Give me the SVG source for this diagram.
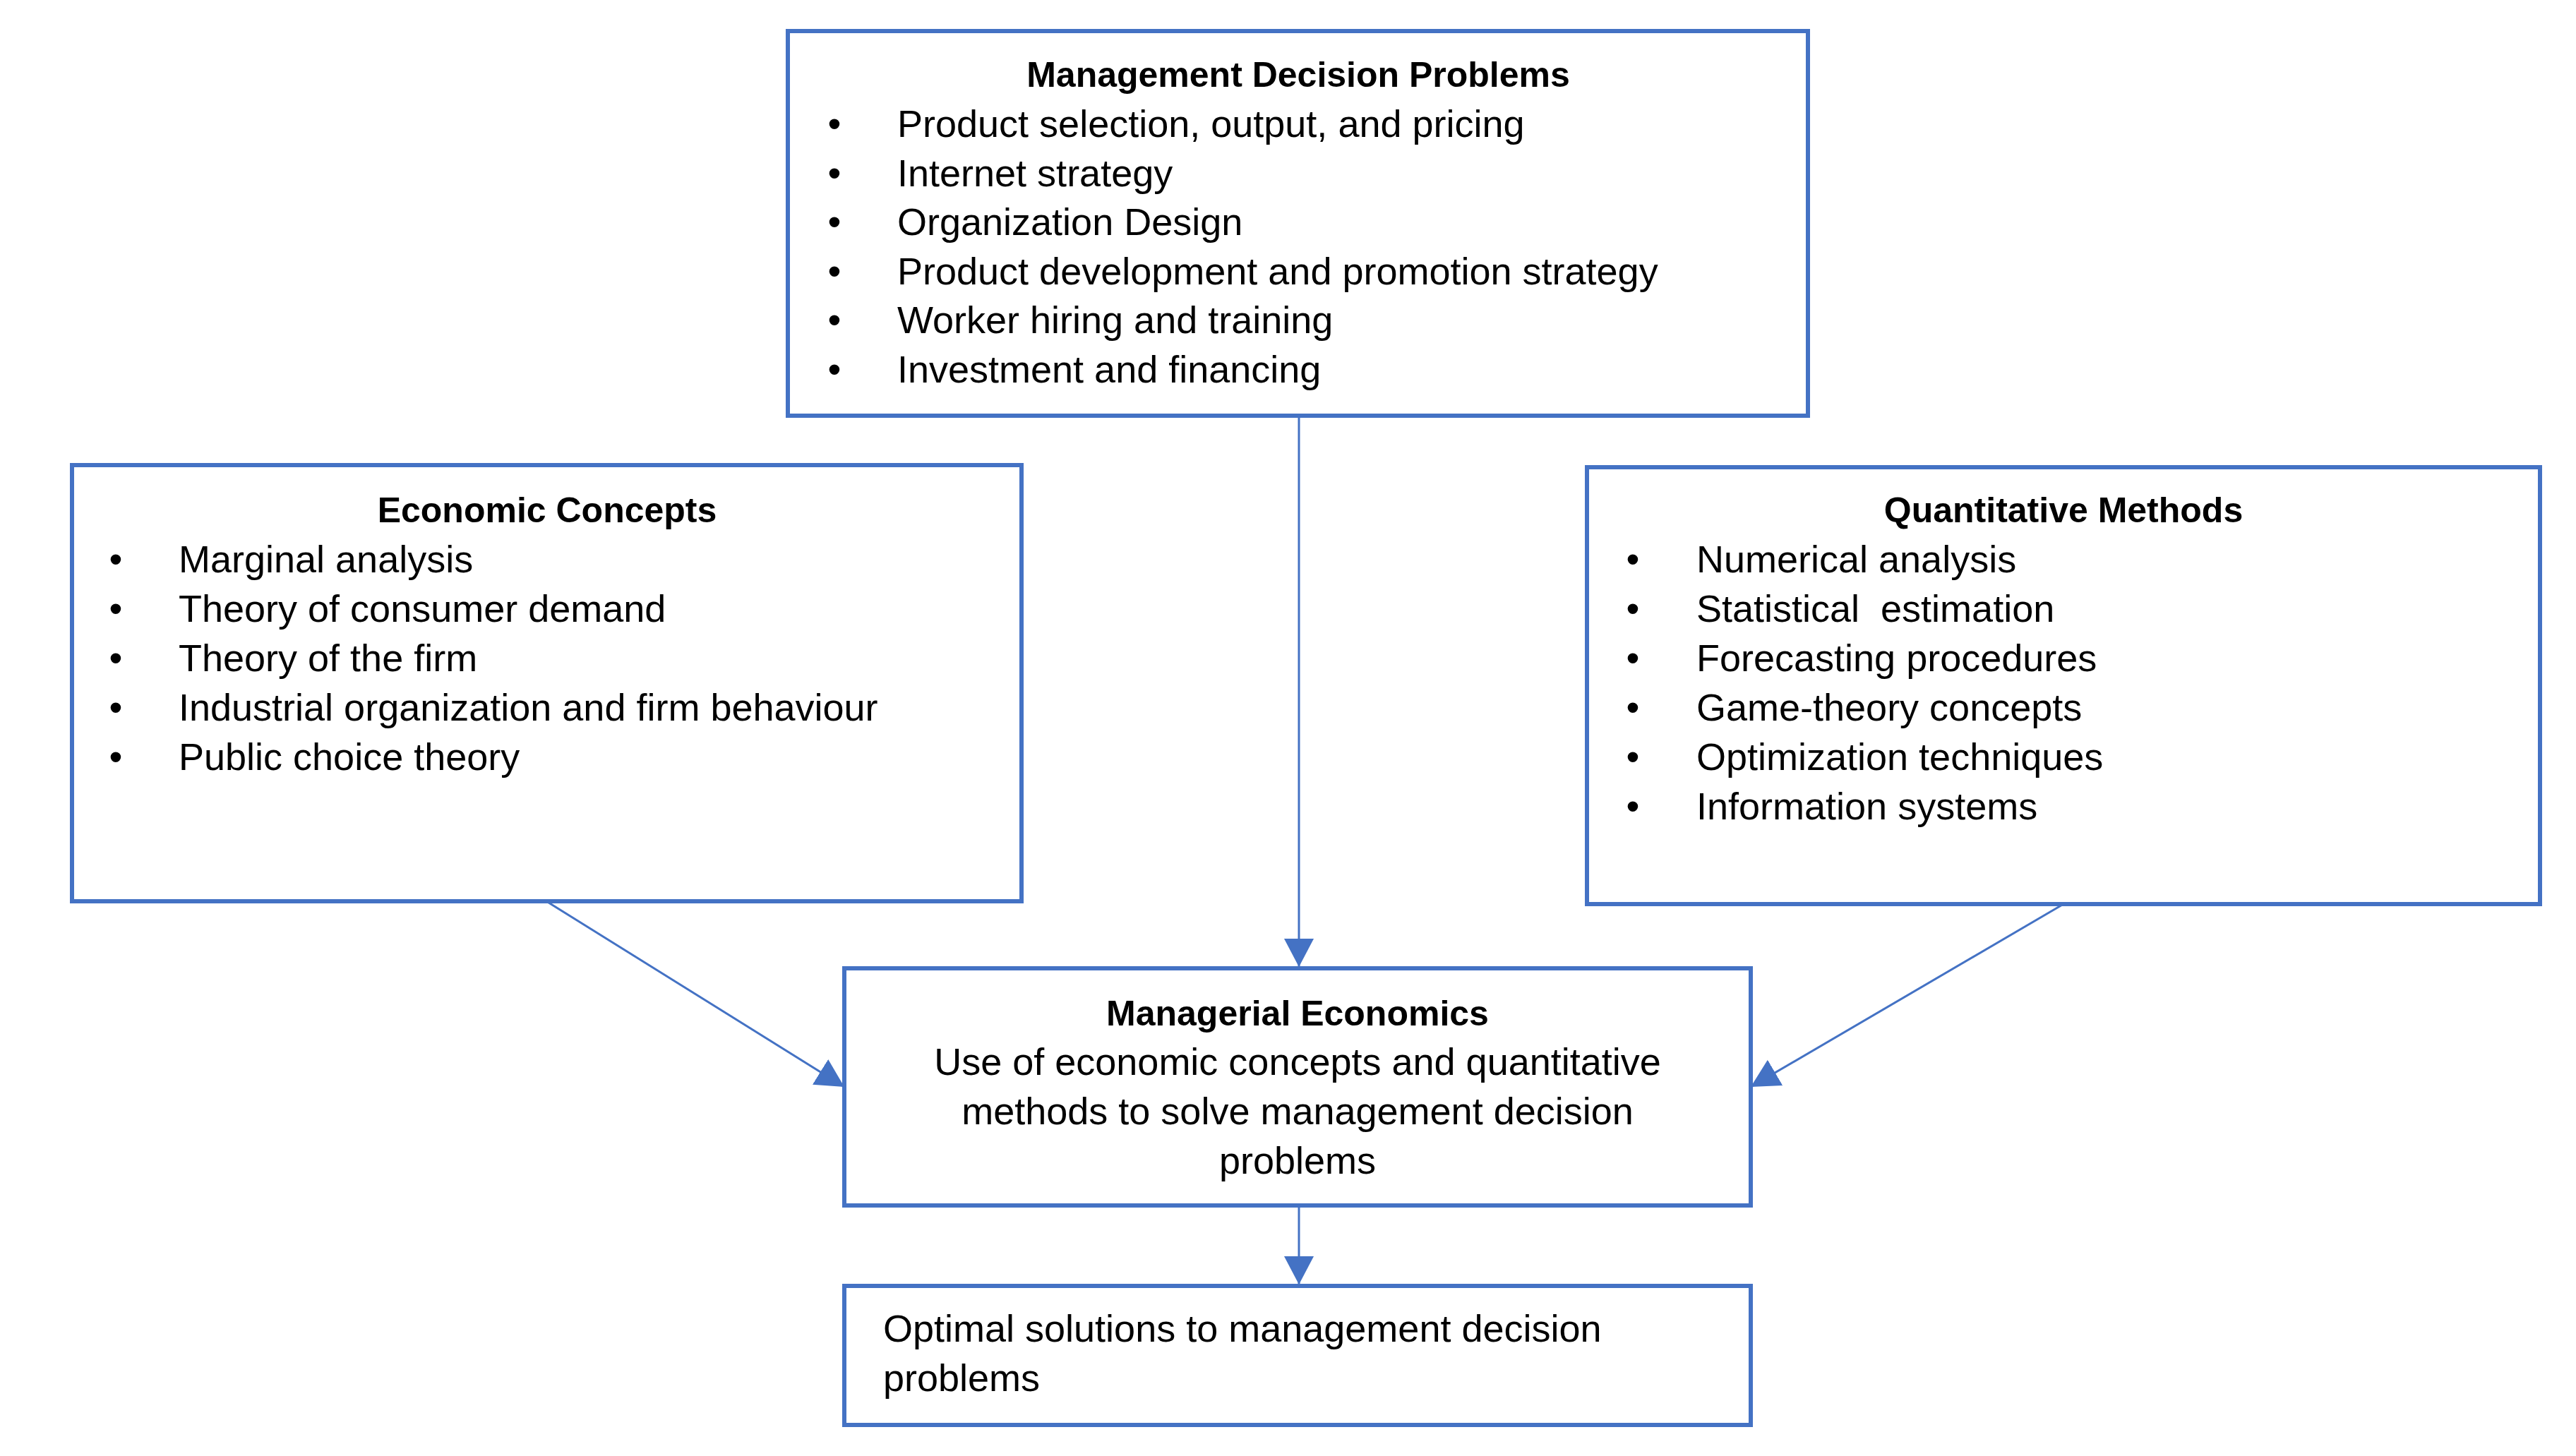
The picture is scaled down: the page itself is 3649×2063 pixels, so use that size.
<svg xmlns="http://www.w3.org/2000/svg" width="3649" height="2063" viewBox="0 0 3649 2063">
<style>
.box{fill:#fff;stroke:#4472C4;stroke-width:6}
.t{font-family:"Liberation Sans",Arial,sans-serif;font-size:54px;fill:#000}
.b{font-family:"Liberation Sans",Arial,sans-serif;font-size:50px;font-weight:bold;fill:#000;text-anchor:middle}
.bu{font-family:"Liberation Sans",Arial,sans-serif;font-size:54px;fill:#000;text-anchor:middle}
.c{text-anchor:middle}
.conn{stroke:#4472C4;stroke-width:3;fill:none;marker-end:url(#ah)}
</style>
<defs>
<marker id="ah" markerUnits="userSpaceOnUse" markerWidth="42" markerHeight="44" refX="40" refY="21" orient="auto" viewBox="0 0 42 44">
<path d="M0,0 L40,21 L0,42 z" fill="#4472C4"/>
</marker>
</defs>
<rect width="3649" height="2063" fill="#fff"/>
<g id="connectors">
<line class="conn" x1="1840" y1="589" x2="1840" y2="1370"/>
<line class="conn" x1="774" y1="1277" x2="1196" y2="1540"/>
<line class="conn" x1="2923" y1="1281" x2="2480" y2="1540"/>
<line class="conn" x1="1840" y1="1708" x2="1840" y2="1820"/>
</g>
<g id="mdp">
<rect class="box" x="1116" y="44" width="1445" height="545"/>
<text class="b" x="1839" y="123">Management Decision Problems</text>
<text class="bu" x="1182" y="194">•</text><text class="t" x="1271" y="194">Product selection, output, and pricing</text>
<text class="bu" x="1182" y="264">•</text><text class="t" x="1271" y="264">Internet strategy</text>
<text class="bu" x="1182" y="333">•</text><text class="t" x="1271" y="333">Organization Design</text>
<text class="bu" x="1182" y="403">•</text><text class="t" x="1271" y="403">Product development and promotion strategy</text>
<text class="bu" x="1182" y="472">•</text><text class="t" x="1271" y="472">Worker hiring and training</text>
<text class="bu" x="1182" y="542">•</text><text class="t" x="1271" y="542">Investment and financing</text>
</g>
<g id="economic-concepts">
<rect class="box" x="102" y="659" width="1345" height="618"/>
<text class="b" x="775" y="740">Economic Concepts</text>
<text class="bu" x="164" y="811">•</text><text class="t" x="253" y="811">Marginal analysis</text>
<text class="bu" x="164" y="881">•</text><text class="t" x="253" y="881">Theory of consumer demand</text>
<text class="bu" x="164" y="951">•</text><text class="t" x="253" y="951">Theory of the firm</text>
<text class="bu" x="164" y="1021">•</text><text class="t" x="253" y="1021">Industrial organization and firm behaviour</text>
<text class="bu" x="164" y="1091">•</text><text class="t" x="253" y="1091">Public choice theory</text>
</g>
<g id="quantitative-methods">
<rect class="box" x="2248" y="662" width="1350" height="619"/>
<text class="b" x="2923" y="740">Quantitative Methods</text>
<text class="bu" x="2313" y="811">•</text><text class="t" x="2403" y="811">Numerical analysis</text>
<text class="bu" x="2313" y="881">•</text><text class="t" x="2403" y="881" xml:space="preserve" style="white-space:pre">Statistical  estimation</text>
<text class="bu" x="2313" y="951">•</text><text class="t" x="2403" y="951">Forecasting procedures</text>
<text class="bu" x="2313" y="1021">•</text><text class="t" x="2403" y="1021">Game-theory concepts</text>
<text class="bu" x="2313" y="1091">•</text><text class="t" x="2403" y="1091">Optimization techniques</text>
<text class="bu" x="2313" y="1161">•</text><text class="t" x="2403" y="1161">Information systems</text>
</g>
<g id="managerial-economics">
<rect class="box" x="1196" y="1372" width="1284" height="336"/>
<text class="b" x="1838" y="1453">Managerial Economics</text>
<text class="t c" x="1838" y="1523">Use of economic concepts and quantitative</text>
<text class="t c" x="1838" y="1593">methods to solve management decision</text>
<text class="t c" x="1838" y="1663">problems</text>
</g>
<g id="optimal-solutions">
<rect class="box" x="1196" y="1822" width="1284" height="197"/>
<text class="t" x="1251" y="1901">Optimal solutions to management decision</text>
<text class="t" x="1251" y="1971">problems</text>
</g>
</svg>
